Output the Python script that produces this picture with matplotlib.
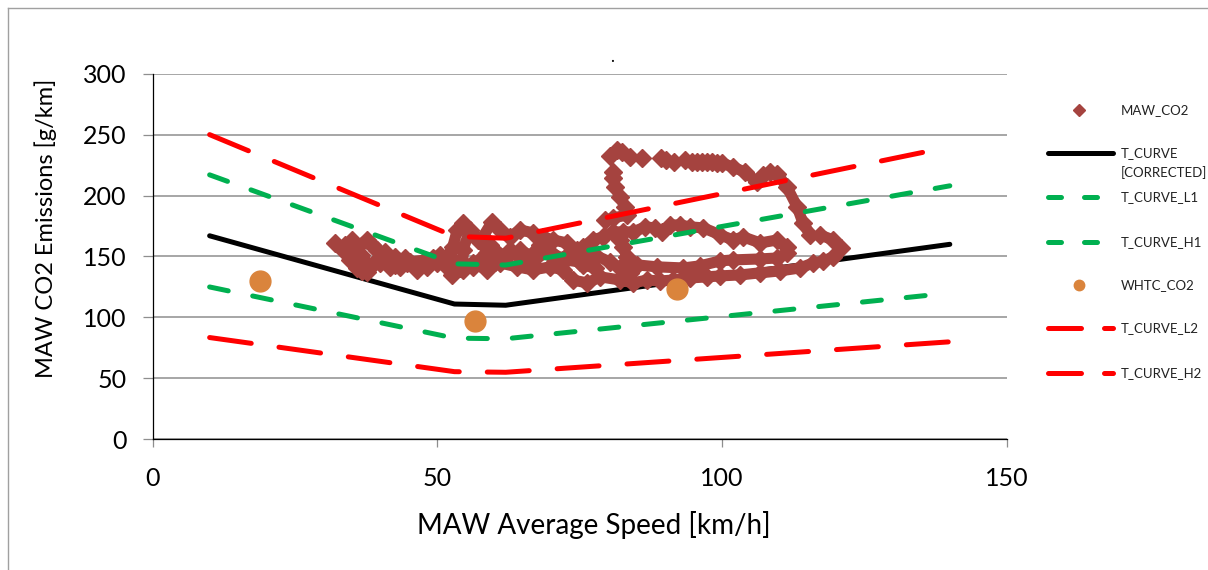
import numpy as np
import matplotlib
matplotlib.use("Agg")
import matplotlib.pyplot as plt

plt.rcParams["font.family"] = ["Lato", "DejaVu Sans"]

nan = np.nan

# T-curve family (speed in km/h, CO2 in g/km)
speed_ref = [10, 53, 62, 140]
t_curve = [167, 111, 110, 160]
t_curve_h1 = [217, 144, 143, 208]
t_curve_l1 = [125, 83, 82.5, 120]
t_curve_h2 = [250, 166.5, 165, 240]
t_curve_l2 = [83.5, 55.5, 55, 80]

# WHTC reference points
whtc_speed = [18.9, 56.6, 92.1]
whtc_co2 = [129.5, 97, 123.4]

# MAW trajectory (NaN = break in the trace)
maw_speed = [
    32.0, 33.4, 34.7, 35.9, 36.8, 35.9, 37.6, 38.5, 39.4, 40.5, 41.7, 43.5, 44.7, 46.4,
    48.2, 49.9, 51.7, 52.7, 53.5, 54.5, 55.7, 54.5, 54.5, 56.3, 57.5, 58.7, 58.0, 59.6,
    61.0, 62.8, 64.5, 66.8, 68.6, 70.3, 72.8, 74.5, 75.6, 77.3, 79.1, 80.9, 82.6, 84.4,
    86.5, 88.2, 89.5, 90.9, 92.6, 94.4, 96.7, 99.7, 101.9, 103.7, 106.7, 109.7, 111.4,
    111.4, 109.7, 106.7, 101.9, 99.7, 96.1, 93.2, 88.6, 85.1, 83.3, 82.6, 82.1, nan,
    56.3, 58.7, 61.0, 64.0, 66.8, 69.8, 72.1, 73.8, 76.3, 78.6, 82.1, 84.4, 86.8, 89.1,
    91.4, 94.4, 97.4, 99.7, 103.2, 106.7, 110.2, 113.7, 116.0, 117.8, 119.5, 120.9,
    119.5, 117.2, nan,
    59.3, 61.9, 64.5, 67.1, 69.8, 72.4, 75.0, 77.6, 80.3, 82.1, 83.8, nan,
    33.8, 35.6, 37.8, 39.9, 42.6, 45.2, 47.9, 50.5, 53.1, 54.9, nan,
    35.0, 36.5, 37.7, 39.1, 40.8, 42.6, 44.3, 47.0, 49.3, 51.4, 52.6, 54.0, nan,
    57.2, 60.2, 62.8, 65.4, 68.0, 70.7, 73.3, 75.6, 77.6, nan,
    79.5, 80.9, 83.3, 83.0, 82.1, 81.2, 80.9, 80.9, nan,
    80.3, 81.6, 82.4, nan, 83.8, nan, 85.9, nan, 89.3, 90.2, nan, 91.6, nan, 93.5, nan,
    94.7, 95.6, 96.5, 97.4, 98.3, 99.1, 100.0, 101.9, 104.0, 106.2, 107.2, 108.4, 109.7,
    111.4, 113.2, 114.2, 115.5,
]
maw_co2 = [
    161.1, 155.4, 147.2, 140.6, 138.1, 157.9, 163.6, 159.5, 155.4, 147.2, 141.5, 141.5, 144.7, 139.0,
    141.5, 144.7, 149.7, 157.9, 171.8, 177.6, 171.8, 155.4, 139.0, 141.5, 147.2, 152.9, 166.1, 178.4,
    171.8, 166.1, 171.8, 169.4, 166.1, 163.6, 161.1, 155.4, 157.9, 163.6, 166.1, 170.2, 170.2, 170.2,
    174.3, 173.5, 170.2, 175.9, 175.9, 174.3, 173.5, 167.7, 163.6, 166.1, 161.1, 163.6, 157.9,
    152.9, 148.8, 148.0, 147.2, 146.4, 142.3, 140.6, 141.5, 143.1, 149.7, 157.9, 163.6, nan,
    144.7, 139.0, 144.7, 141.5, 139.0, 141.5, 139.0, 130.7, 128.3, 133.3, 130.7, 128.3, 130.7, 129.9,
    130.7, 132.4, 133.3, 134.1, 134.9, 136.6, 138.2, 140.6, 144.7, 146.3, 149.7, 157.1,
    163.6, 167.7, nan,
    159.5, 148.8, 155.4, 148.8, 153.7, 147.2, 145.5, 151.3, 145.5, 140.6, 136.6, nan,
    159.5, 148.8, 143.1, 144.7, 149.7, 145.5, 147.2, 151.3, 145.5, 143.1, nan,
    163.6, 151.3, 137.4, 145.5, 153.7, 143.1, 148.8, 143.1, 148.8, 143.1, 134.9, 140.6, nan,
    163.6, 145.5, 155.4, 145.5, 159.5, 145.5, 152.9, 143.1, 140.6, nan,
    179.9, 181.6, 184.1, 190.6, 198.8, 207.1, 214.4, 219.3, nan,
    232.5, 237.4, 235.7, nan, 231.7, nan, 230.8, nan, 230.8, 229.2, nan, 227.5, nan, 229.2, nan,
    227.5, 227.5, 227.5, 227.5, 227.5, 226.7, 226.7, 223.4, 219.3, 211.1, 216.8, 219.3, 217.7,
    207.1, 190.6, 177.6, 167.7,
]

x_ticks = [0, 50, 100, 150]
y_ticks = [0, 50, 100, 150, 200, 250, 300]

MAW_COLOR = "#A5433F"
GREEN = "#00B050"
RED = "#FF0000"
ORANGE = "#DA843C"
GRID = "#8E8E8E"
TEXT = "#222222"

fig = plt.figure(figsize=(12.08, 5.70), dpi=100, facecolor="white")
ax = fig.add_axes([0.1264, 0.2293, 0.7070, 0.6414])

ax.plot(speed_ref, t_curve, color="black", lw=3.6, solid_capstyle="round",
        solid_joinstyle="round", zorder=2)
ax.plot(maw_speed, maw_co2, color=MAW_COLOR, lw=8.0, marker="D", ms=9,
        solid_capstyle="round", solid_joinstyle="round", zorder=3)

green_ls = (0, (3.8, 5.0))
red_ls = (0, (8.4, 5.6))
ax.plot(speed_ref, t_curve_l1, color=GREEN, lw=3.6, ls=green_ls, dash_capstyle="round", zorder=4)
ax.plot(speed_ref, t_curve_h1, color=GREEN, lw=3.6, ls=green_ls, dash_capstyle="round", zorder=4)
ax.plot(speed_ref, t_curve_l2, color=RED, lw=3.6, ls=red_ls, dash_capstyle="round", zorder=4)
ax.plot(speed_ref, t_curve_h2, color=RED, lw=3.6, ls=red_ls, dash_capstyle="round", zorder=4)
ax.plot(whtc_speed, whtc_co2, ls="none", marker="o", ms=15, color=ORANGE, zorder=5)

ax.set_xlim(0, 150)
ax.set_ylim(0, 300)
ax.set_xticks(x_ticks)
ax.set_yticks(y_ticks)
ax.grid(True, axis="y", color=GRID, lw=1.1, zorder=0)
ax.set_axisbelow(True)
for side in ["top", "right"]:
    ax.spines[side].set_visible(False)
for side in ["left", "bottom"]:
    ax.spines[side].set_color("black")
    ax.spines[side].set_linewidth(0.9)
ax.tick_params(axis="y", length=7, width=0.9, color=GRID, pad=12, labelsize=18)
ax.tick_params(axis="x", length=6, width=0.9, color=GRID, pad=14, labelsize=18)

ax.set_xlabel("MAW Average Speed [km/h]", fontsize=20)
ax.set_ylabel("MAW CO2 Emissions [g/km]", fontsize=17)
ax.xaxis.label.set_va("center")
ax.yaxis.label.set_va("center")
ax.xaxis.set_label_coords(0.517, -0.234)
ax.yaxis.set_label_coords(-0.125, 0.578)

# overlay in pixel coordinates for legend and outer frame
ov = fig.add_axes([0, 0, 1, 1], zorder=10)
ov.set_xlim(0, 1208)
ov.set_ylim(570, 0)
ov.axis("off")
ov.patch.set_alpha(0)

ov.plot([8, 8], [8, 570], color="#A0A0A0", lw=1)
ov.plot([8, 1208], [8, 8], color="#A0A0A0", lw=1)
ov.text(612, 57, ".", fontsize=12, ha="center", va="center", color="black")

text_x = 1121
fs = 9.5
lx0, lx1 = 1047.5, 1112.5
ov.plot([1079], [110], ls="none", marker="D", ms=6.5, color=MAW_COLOR)
ov.text(text_x, 110, "MAW_CO2", fontsize=fs, va="center", color=TEXT)

ov.plot([lx0, lx1], [152.7, 152.7], color="black", lw=3.6, solid_capstyle="round")
ov.text(text_x, 152.7, "T_CURVE", fontsize=fs, va="center", color=TEXT)
ov.text(text_x, 173, "[CORRECTED]", fontsize=fs, va="center", color=TEXT)

leg_green = (0, (2.6, 4.6))
leg_red = (0, (6.6, 4.6))
ov.plot([lx0, lx1], [197, 197], color=GREEN, lw=3.6, ls=leg_green, dash_capstyle="round")
ov.text(text_x, 197, "T_CURVE_L1", fontsize=fs, va="center", color=TEXT)
ov.plot([lx0, lx1], [242, 242], color=GREEN, lw=3.6, ls=leg_green, dash_capstyle="round")
ov.text(text_x, 242, "T_CURVE_H1", fontsize=fs, va="center", color=TEXT)

ov.plot([1079], [285], ls="none", marker="o", ms=7.5, color=ORANGE)
ov.text(text_x, 285, "WHTC_CO2", fontsize=fs, va="center", color=TEXT)

ov.plot([lx0, lx1], [328, 328], color=RED, lw=3.6, ls=leg_red, dash_capstyle="round")
ov.text(text_x, 328, "T_CURVE_L2", fontsize=fs, va="center", color=TEXT)
ov.plot([lx0, lx1], [373, 373], color=RED, lw=3.6, ls=leg_red, dash_capstyle="round")
ov.text(text_x, 373, "T_CURVE_H2", fontsize=fs, va="center", color=TEXT)

fig.savefig("out.png", dpi=100, facecolor="white")
plt.close(fig)
